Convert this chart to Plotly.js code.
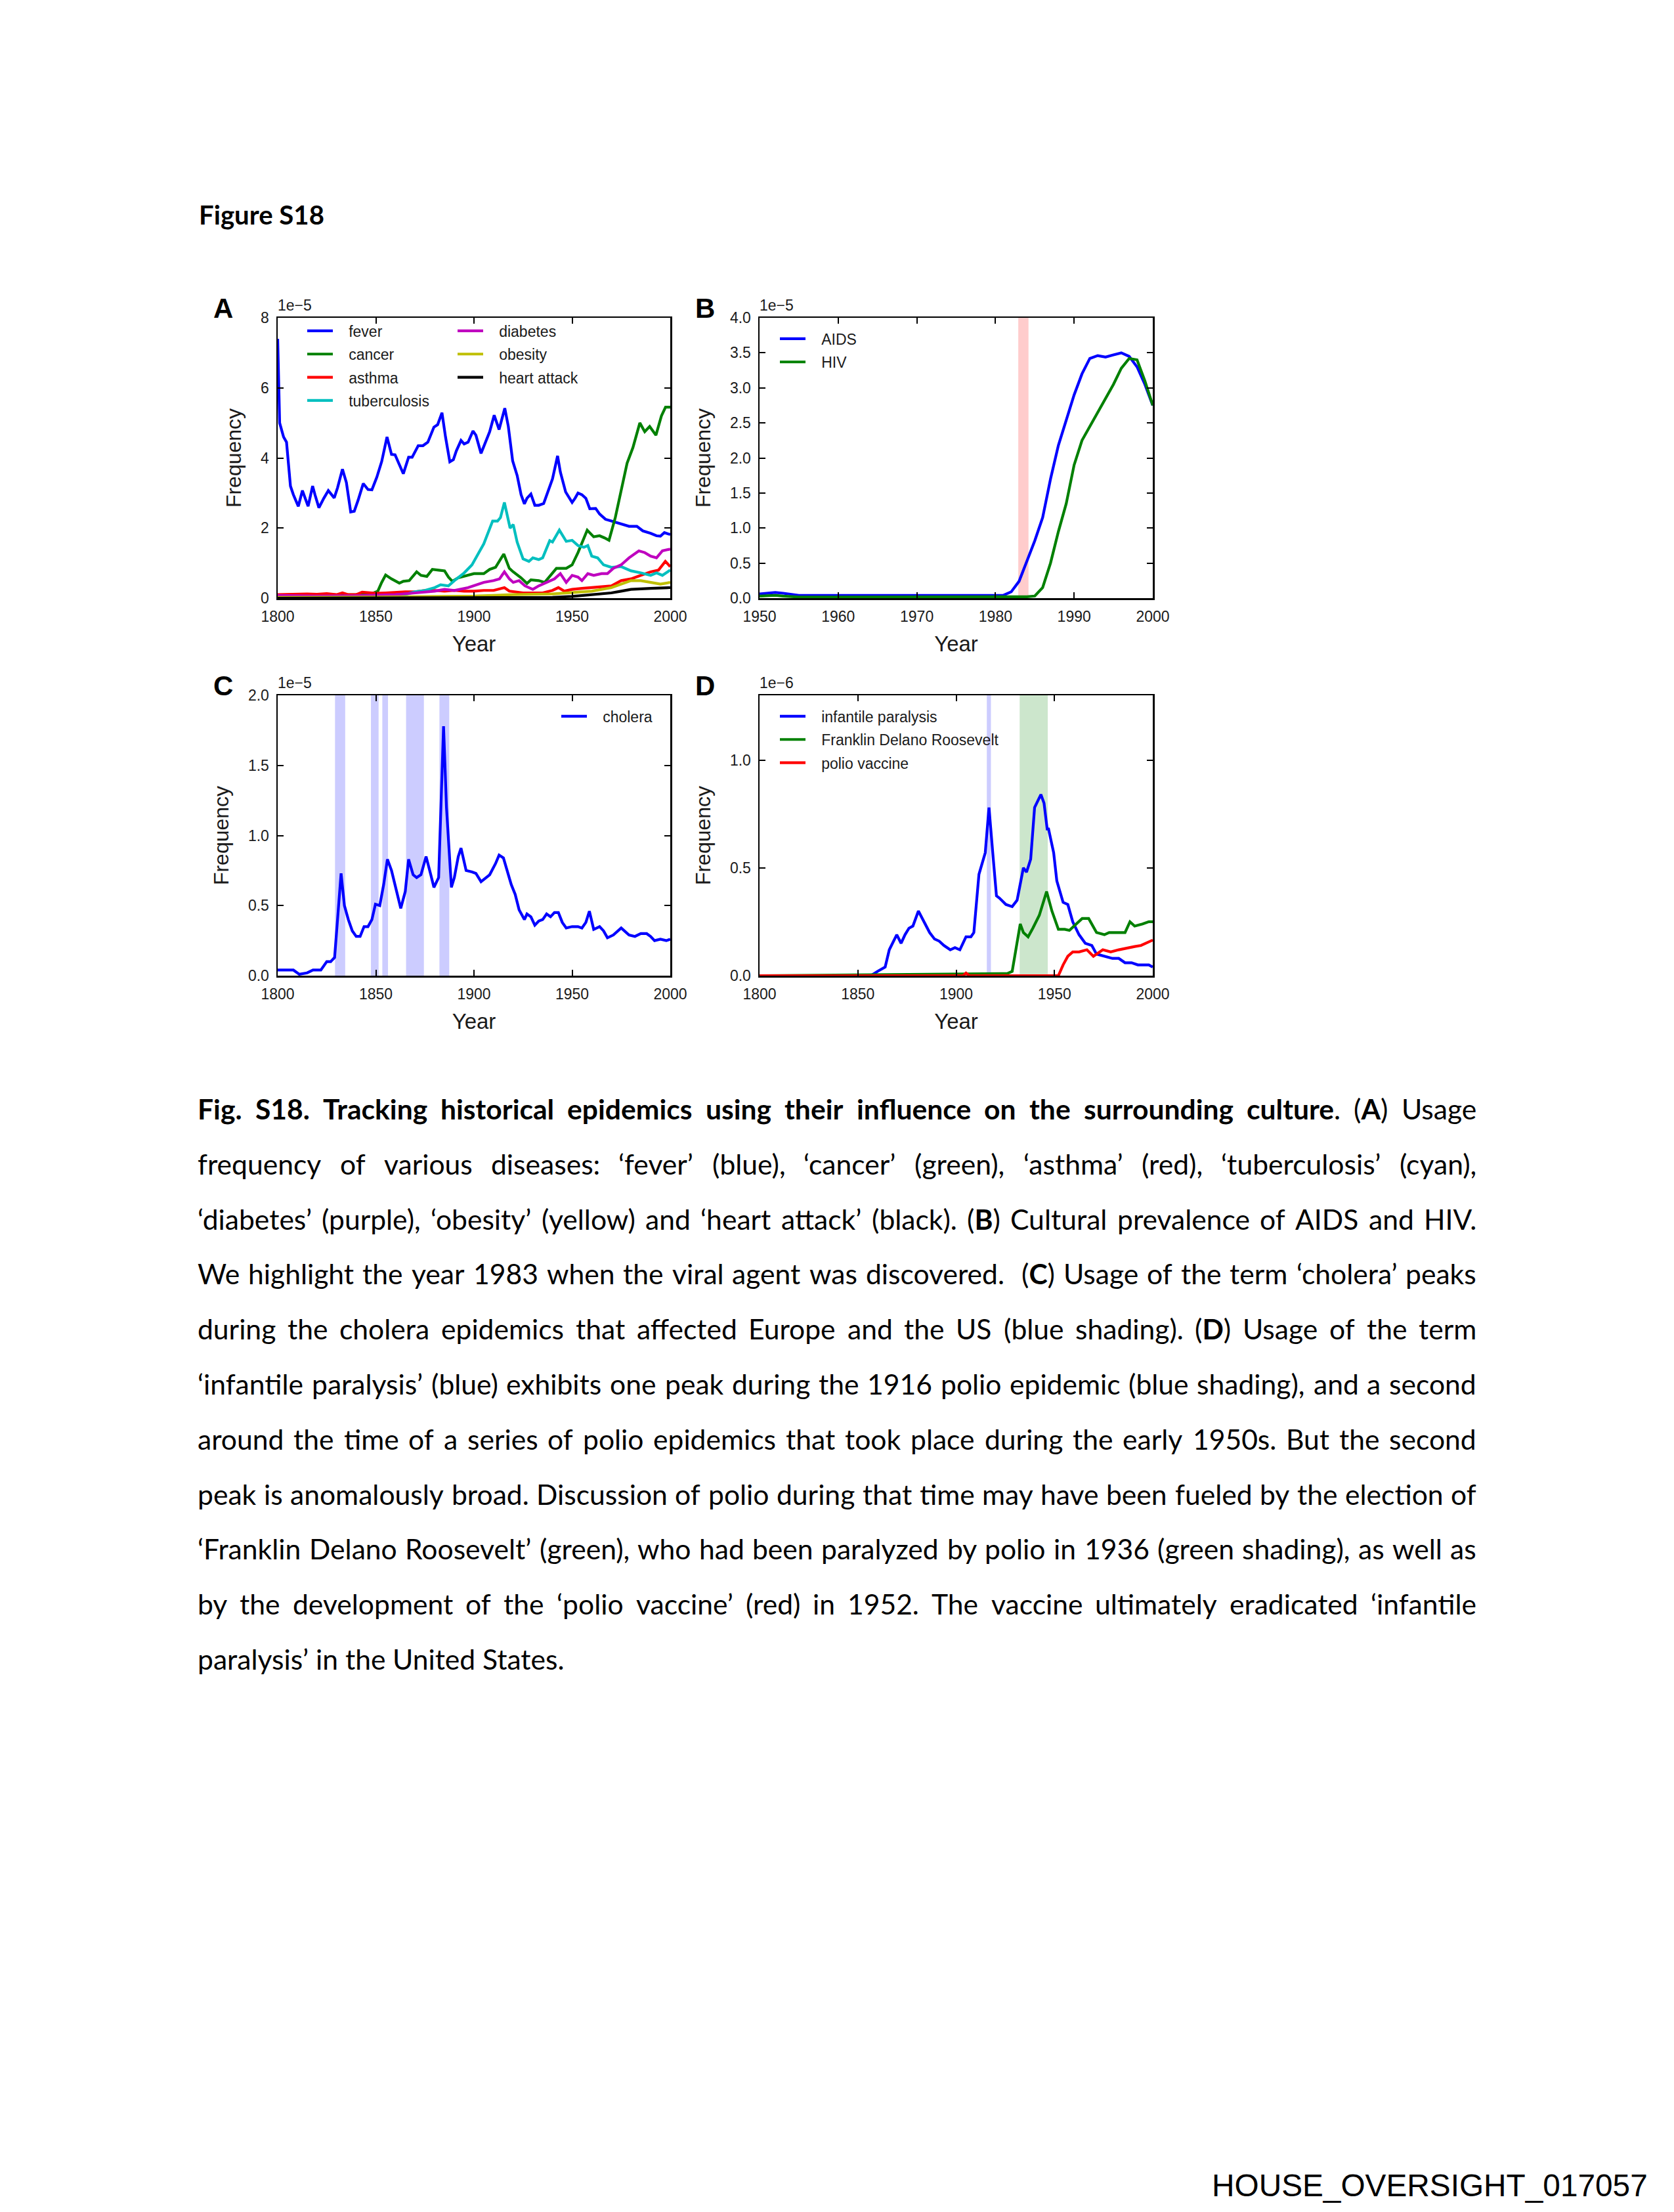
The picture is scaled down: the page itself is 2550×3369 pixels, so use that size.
<!DOCTYPE html>
<html>
<head>
<meta charset="utf-8">
<script src="https://cdn.plot.ly/plotly-3.0.1.min.js"></script>
<style>
html,body{margin:0;padding:0;background:#fff;}
#chart{width:2550px;height:3369px;}
</style>
</head>
<body>
<div id="chart"></div>
<script>
// ================= DATA (frequencies in units of the axis multiplier) =================
// Panel A (x 1e-5)
const feverYears = [1800,1801,1803,1804.5,1806.5,1808,1810.5,1812.6,1815.5,1817.8,1819,1821,1823.5,1825.8,1828.8,1830.5,1833,1835,1837.2,1839,1841,1843.6,1846,1848,1850.5,1853,1855.7,1858,1859.8,1862,1864,1866.7,1868.5,1871.6,1874,1876.5,1879.6,1881.5,1883.7,1885.5,1887.7,1889.5,1891,1893.4,1895,1897,1899.5,1901,1903.6,1905.5,1908,1910.3,1912.8,1915.7,1917.5,1919.7,1922,1924,1925.7,1927,1929,1931,1933,1935.5,1937.5,1940,1942.6,1944,1946.7,1950,1951.5,1953,1955,1957,1959,1962,1964,1967,1970,1973,1976,1979,1983,1986,1990,1993,1995,1997,1999,2000];
const feverVals = [7.4,5.0,4.6,4.45,3.2,2.95,2.62,3.07,2.62,3.2,2.95,2.58,2.85,3.07,2.86,3.15,3.68,3.3,2.46,2.48,2.8,3.27,3.1,3.09,3.45,3.9,4.6,4.1,4.09,3.8,3.55,4.02,4.02,4.35,4.35,4.45,4.88,4.95,5.29,4.6,3.89,3.95,4.2,4.5,4.4,4.45,4.77,4.65,4.13,4.4,4.75,5.22,4.81,5.42,4.9,3.92,3.5,2.95,2.69,2.85,2.97,2.65,2.65,2.7,3.0,3.4,4.06,3.6,3.03,2.73,2.85,3.0,2.95,2.85,2.55,2.56,2.4,2.25,2.2,2.15,2.1,2.05,2.05,1.92,1.85,1.78,1.77,1.87,1.83,1.82];

const cancerYears = [1800,1810,1820,1830,1840,1845,1849,1851,1853,1855,1858,1862,1864,1867,1870.8,1873,1876,1878.8,1882,1885,1887,1889,1892,1896.6,1900,1905,1908,1911,1915.2,1918,1920,1924,1927,1929,1933,1936,1940,1942,1947,1950,1953,1957.7,1961,1964,1966.5,1968.8,1972,1975,1978,1981,1984.5,1987,1989.5,1992.7,1995.5,1997.6,2000];
const cancerVals = [0.08,0.08,0.09,0.09,0.1,0.15,0.15,0.2,0.45,0.66,0.55,0.43,0.48,0.5,0.75,0.65,0.62,0.82,0.8,0.78,0.6,0.48,0.58,0.65,0.7,0.7,0.82,0.88,1.26,0.85,0.75,0.58,0.42,0.52,0.5,0.45,0.7,0.85,0.85,0.95,1.3,1.94,1.75,1.78,1.72,1.65,2.3,3.1,3.85,4.3,5.0,4.75,4.9,4.65,5.2,5.45,5.45];

const asthmaYears = [1800,1805,1810,1815,1820,1825,1830,1833,1836,1840,1843,1846,1850,1855,1860,1865,1870,1875,1880,1885,1890,1895,1900,1905,1910,1915.5,1918,1922,1925,1930,1935,1940,1943,1946,1950,1955,1960,1965,1970,1975,1980,1985,1990,1994,1997.5,2000];
const asthmaVals = [0.1,0.11,0.12,0.12,0.11,0.13,0.1,0.15,0.1,0.1,0.17,0.15,0.14,0.15,0.17,0.18,0.18,0.22,0.22,0.2,0.22,0.2,0.2,0.22,0.22,0.3,0.2,0.18,0.15,0.15,0.15,0.22,0.3,0.2,0.25,0.28,0.3,0.32,0.35,0.5,0.55,0.65,0.75,0.8,1.05,0.9];

const tbYears = [1800,1820,1840,1850,1860,1866,1870,1875,1880,1883,1887,1890,1895,1899,1902,1905,1909.5,1912,1913.5,1915.5,1918.4,1920,1922,1925,1928,1930,1933,1935,1938.6,1940,1943.5,1945,1947,1950,1953,1956,1958,1960,1963,1966,1970,1975,1980,1985,1990,1993,1996,2000];
const tbVals = [0.03,0.03,0.04,0.05,0.1,0.12,0.18,0.22,0.3,0.38,0.35,0.5,0.72,0.95,1.25,1.55,2.2,2.2,2.3,2.73,2.0,2.1,1.6,1.12,1.05,1.15,1.1,1.15,1.64,1.6,1.94,1.8,1.62,1.65,1.5,1.45,1.5,1.2,1.15,0.95,0.88,0.9,0.78,0.72,0.65,0.72,0.65,0.8];

const diabetesYears = [1800,1820,1840,1860,1870,1880,1885,1890,1897,1900,1905,1910,1913,1915.5,1918,1920,1923,1926,1930,1933,1937,1941,1944,1947,1950,1953,1955,1958,1961,1965,1968,1971,1975,1979,1984,1987,1990,1993,1996,2000];
const diabetesVals = [0.08,0.06,0.07,0.1,0.15,0.2,0.25,0.22,0.3,0.35,0.45,0.5,0.55,0.75,0.55,0.45,0.5,0.35,0.25,0.35,0.45,0.55,0.7,0.45,0.65,0.6,0.5,0.7,0.65,0.7,0.7,0.85,0.95,1.15,1.35,1.3,1.2,1.15,1.35,1.4];

const obesityYears = [1800,1850,1900,1920,1940,1950,1960,1970,1975,1980,1985,1990,1995,2000];
const obesityVals = [0.02,0.03,0.06,0.1,0.12,0.15,0.2,0.3,0.4,0.5,0.5,0.45,0.4,0.45];

const heartYears = [1800,1900,1940,1950,1960,1970,1975,1980,1990,2000];
const heartVals = [0.0,0.01,0.02,0.05,0.1,0.15,0.2,0.25,0.28,0.3];

// Panel B (x 1e-5)
const bYears = [1950,1951,1952,1953,1954,1955,1956,1957,1958,1959,1960,1961,1962,1963,1964,1965,1966,1967,1968,1969,1970,1971,1972,1973,1974,1975,1976,1977,1978,1979,1980,1981,1982,1983,1984,1985,1986,1987,1988,1989,1990,1991,1992,1993,1994,1995,1996,1997,1998,1999,2000];
const aidsVals = [0.06,0.07,0.08,0.07,0.05,0.04,0.04,0.04,0.045,0.045,0.045,0.045,0.045,0.04,0.04,0.04,0.04,0.04,0.04,0.045,0.045,0.045,0.04,0.04,0.045,0.045,0.045,0.04,0.04,0.04,0.04,0.04,0.09,0.24,0.53,0.82,1.15,1.7,2.18,2.55,2.9,3.2,3.42,3.46,3.44,3.47,3.5,3.45,3.3,3.05,2.75];
const hivVals = [0.03,0.035,0.04,0.03,0.02,0.015,0.015,0.015,0.015,0.015,0.015,0.015,0.015,0.015,0.015,0.015,0.015,0.015,0.015,0.015,0.015,0.015,0.015,0.015,0.015,0.015,0.015,0.015,0.015,0.015,0.015,0.015,0.015,0.015,0.02,0.03,0.15,0.5,0.95,1.35,1.9,2.25,2.45,2.65,2.85,3.05,3.28,3.42,3.4,3.1,2.75];
const hivDiscoverySpan = [1982.9, 1984.2];

// Panel C (x 1e-5)
const choleraYears = [1800,1805,1808,1811,1815,1818,1822,1825,1827,1829,1830.5,1832.3,1834,1836,1838,1840,1842,1844,1846,1848,1849.8,1852,1854,1855.9,1858,1861,1862.7,1865,1866.7,1869,1870.8,1873,1875.6,1878,1879.6,1882,1884.5,1886,1888.5,1890,1892,1893.4,1896,1899,1901,1903.6,1906,1908,1911,1912.8,1915,1917,1919,1921,1923,1925.7,1927,1929,1931,1933,1935,1937,1939,1941,1943,1945,1947,1950,1953,1955,1957,1958.8,1961,1964,1966,1968,1971,1975,1979,1982,1985,1988,1990,1992,1995,1998,2000];
const choleraVals = [0.04,0.04,0.04,0.01,0.02,0.04,0.04,0.1,0.1,0.13,0.4,0.73,0.5,0.4,0.32,0.28,0.28,0.35,0.35,0.4,0.51,0.5,0.65,0.83,0.75,0.58,0.48,0.6,0.83,0.72,0.7,0.72,0.85,0.72,0.63,0.7,1.78,1.2,0.63,0.7,0.85,0.91,0.75,0.74,0.73,0.67,0.7,0.72,0.8,0.86,0.84,0.75,0.65,0.58,0.47,0.4,0.44,0.42,0.36,0.39,0.4,0.44,0.42,0.45,0.45,0.38,0.34,0.35,0.35,0.34,0.38,0.46,0.33,0.35,0.32,0.27,0.29,0.34,0.29,0.28,0.3,0.3,0.28,0.25,0.26,0.25,0.26];
const choleraEpidemicStarts = [1829.2, 1847.5, 1853.3, 1865.4, 1882.4];
const choleraEpidemicEnds   = [1834.4, 1851.4, 1856.2, 1874.5, 1887.4];

// Panel D (x 1e-6)
const paralysisYears = [1800,1856.6,1860,1862,1863.9,1866,1869.8,1872,1874,1876,1878,1880.8,1884,1886.5,1889,1891.4,1893.8,1897,1899.4,1901.9,1905,1907.5,1909,1911.6,1914.8,1916.7,1918.8,1920.5,1922,1925.3,1928.5,1931,1934.2,1935.8,1937.9,1939.9,1943.1,1944.7,1946.3,1947,1949.6,1951.2,1954.4,1956.8,1959.3,1962.5,1965.7,1969,1971.4,1976.2,1979.5,1982.7,1985.9,1989.2,1992.4,1995.6,1998,2000];
const paralysisVals = [0,0,0.02,0.03,0.04,0.12,0.19,0.15,0.19,0.22,0.23,0.3,0.24,0.2,0.17,0.16,0.14,0.12,0.13,0.12,0.18,0.18,0.2,0.47,0.57,0.78,0.55,0.37,0.36,0.33,0.32,0.35,0.5,0.48,0.54,0.78,0.84,0.8,0.68,0.68,0.57,0.44,0.34,0.33,0.25,0.19,0.15,0.14,0.1,0.09,0.08,0.08,0.06,0.06,0.05,0.05,0.05,0.04];
const fdrYears = [1800,1926.1,1928.5,1930,1932.6,1934.2,1936.6,1939,1942.3,1946,1948.7,1952,1955.2,1957.6,1960.9,1964.1,1967.4,1971.4,1975.4,1977.8,1981,1985.9,1988.4,1990.8,1994.8,1998,2000];
const fdrVals = [0,0.01,0.02,0.1,0.24,0.2,0.18,0.22,0.28,0.39,0.3,0.215,0.215,0.21,0.24,0.265,0.265,0.2,0.19,0.2,0.2,0.2,0.25,0.23,0.24,0.25,0.25];
const vaccineYears = [1800,1903.5,1905,1906.7,1908,1952,1954.4,1956.8,1959.3,1962.5,1966.5,1969.8,1974.6,1978.6,1982.7,1987.5,1990.8,1994,1997.3,2000];
const vaccineVals = [0,0,0.012,0,0,0,0.05,0.09,0.11,0.11,0.12,0.09,0.12,0.11,0.12,0.13,0.135,0.14,0.155,0.165];
const polioEpidemicSpan = [1915.6, 1917.7];
const fdrSpan = [1932.3, 1946.6];

// Tick labels
const centuryTicks = [1800, 1850, 1900, 1950, 2000];
const bXTicks = [1950, 1960, 1970, 1980, 1990, 2000];
const aYTicks = [0, 2, 4, 6, 8];
const bYTicks = [0, 0.5, 1.0, 1.5, 2.0, 2.5, 3.0, 3.5, 4.0];
const cYTicks = [0, 0.5, 1.0, 1.5, 2.0];
const dYTicks = [0, 0.5, 1.0];

// Caption text
const figureHeading = "Figure S18";
const captionLines = [
  "<b>Fig.</b> <b>S18.</b> <b>Tracking</b> <b>historical</b> <b>epidemics</b> <b>using</b> <b>their</b> <b>influence</b> <b>on</b> <b>the</b> <b>surrounding</b> <b>culture</b>. (<b>A</b>) Usage",
  "frequency of various diseases: ‘fever’ (blue), ‘cancer’ (green), ‘asthma’ (red), ‘tuberculosis’ (cyan),",
  "‘diabetes’ (purple), ‘obesity’ (yellow) and ‘heart attack’ (black). (<b>B</b>) Cultural prevalence of AIDS and HIV.",
  "We highlight the year 1983 when the viral agent was discovered.  (<b>C</b>) Usage of the term ‘cholera’ peaks",
  "during the cholera epidemics that affected Europe and the US (blue shading). (<b>D</b>) Usage of the term",
  "‘infantile paralysis’ (blue) exhibits one peak during the 1916 polio epidemic (blue shading), and a second",
  "around the time of a series of polio epidemics that took place during the early 1950s. But the second",
  "peak is anomalously broad. Discussion of polio during that time may have been fueled by the election of",
  "‘Franklin Delano Roosevelt’ (green), who had been paralyzed by polio in 1936 (green shading), as well as",
  "by the development of the ‘polio vaccine’ (red) in 1952. The vaccine ultimately eradicated ‘infantile",
  "paralysis’ in the United States."
];
const footerText = "HOUSE_OVERSIGHT_017057";

// ================= LAYOUT HELPERS =================
const W = 2550, H = 3369;
const px = v => v / W;
const py = v => 1 - v / H;

const C_BLUE = '#0000ff', C_GREEN = '#008000', C_RED = '#ff0000', C_CYAN = '#00bfbf',
      C_MAGENTA = '#bf00bf', C_YELLOW = '#bfbf00', C_BLACK = '#000000';
const SANS = 'Liberation Sans, Arial, Helvetica, sans-serif';
const TXT = '#1a1a1a';

const cv = document.createElement('canvas').getContext('2d');
function segs(html) {
  const out = []; const re = /<b>(.*?)<\/b>|([^<]+)/g; let m;
  while ((m = re.exec(html))) { if (m[1] !== undefined) out.push([m[1], true]); else out.push([m[2], false]); }
  return out;
}
function measure(html, fs, fam, forceBold) {
  let w = 0;
  for (const [t, b] of segs(html)) {
    cv.font = ((b || forceBold) ? 'bold ' : '') + fs + 'px ' + fam;
    w += cv.measureText(t).width;
  }
  return w;
}
function fitSize(text, fam, target, bold) { return 100 * target / measure(text, 100, fam, bold); }

// ================= TRACES =================
const LW = 4.2;
const LEGEND_PAD = '\u00a0\u00a0\u00a0';   // gap between legend line sample and its label
function tr(x, y, name, color, xa, ya, legend) {
  return { type: 'scatter', mode: 'lines', x: x, y: y, name: LEGEND_PAD + name, legend: legend, legendgroup: name,
           xaxis: xa, yaxis: ya, line: { color: color, width: LW }, hoverinfo: 'skip' };
}
const traces = [
  tr(feverYears, feverVals, 'fever', C_BLUE, 'x', 'y', 'legend'),
  tr(cancerYears, cancerVals, 'cancer', C_GREEN, 'x', 'y', 'legend'),
  tr(asthmaYears, asthmaVals, 'asthma', C_RED, 'x', 'y', 'legend'),
  tr(tbYears, tbVals, 'tuberculosis', C_CYAN, 'x', 'y', 'legend'),
  tr(diabetesYears, diabetesVals, 'diabetes', C_MAGENTA, 'x', 'y', 'legend2'),
  tr(obesityYears, obesityVals, 'obesity', C_YELLOW, 'x', 'y', 'legend2'),
  tr(heartYears, heartVals, 'heart attack', C_BLACK, 'x', 'y', 'legend2'),
  tr(bYears, aidsVals, 'AIDS', C_BLUE, 'x2', 'y2', 'legend3'),
  tr(bYears, hivVals, 'HIV', C_GREEN, 'x2', 'y2', 'legend3'),
  tr(choleraYears, choleraVals, 'cholera', C_BLUE, 'x3', 'y3', 'legend4'),
  tr(paralysisYears, paralysisVals, 'infantile paralysis', C_BLUE, 'x4', 'y4', 'legend5'),
  tr(fdrYears, fdrVals, 'Franklin Delano Roosevelt', C_GREEN, 'x4', 'y4', 'legend5'),
  tr(vaccineYears, vaccineVals, 'polio vaccine', C_RED, 'x4', 'y4', 'legend5')
];

// ================= AXES =================
const FRAME = {
  A: { l: 423, r: 1021, t: 484, b: 911 },
  B: { l: 1157, r: 1756, t: 484, b: 911 },
  C: { l: 423, r: 1021, t: 1059, b: 1486 },
  D: { l: 1157, r: 1756, t: 1059, b: 1486 }
};
function xAx(f, range, ticks, anchor) {
  return {
    domain: [px(f.l), px(f.r)], range: range, anchor: anchor, tickvals: ticks, tickangle: 0,
    showline: true, linecolor: '#000', linewidth: 2.5, mirror: 'ticks',
    ticks: 'inside', ticklen: 9, tickwidth: 2, tickcolor: '#000',
    showgrid: false, zeroline: false, ticklabelstandoff: 6,
    tickfont: { family: SANS, size: 23, color: TXT },
    title: { text: 'Year', font: { family: SANS, size: 33, color: TXT }, standoff: 18 }
  };
}
function yAx(f, range, ticks, fmt, anchor) {
  return {
    domain: [py(f.b), py(f.t)], range: range, anchor: anchor, tickvals: ticks, tickformat: fmt, tickangle: 0,
    showline: true, linecolor: '#000', linewidth: 2.5, mirror: 'ticks',
    ticks: 'inside', ticklen: 9, tickwidth: 2, tickcolor: '#000',
    showgrid: false, zeroline: false, ticklabelstandoff: 6,
    tickfont: { family: SANS, size: 23, color: TXT },
    title: { text: 'Frequency', font: { family: SANS, size: 32, color: TXT }, standoff: 20 }
  };
}

// ================= SHAPES =================
const shapes = [];
function band(x0, x1, xa, ya, color) {
  shapes.push({ type: 'rect', xref: xa, yref: ya + ' domain', x0: x0, x1: x1, y0: 0, y1: 1,
                fillcolor: color, line: { width: 0 }, layer: 'below' });
}
band(hivDiscoverySpan[0], hivDiscoverySpan[1], 'x2', 'y2', 'rgba(255,0,0,0.2)');
choleraEpidemicStarts.forEach((s, i) => band(s, choleraEpidemicEnds[i], 'x3', 'y3', 'rgba(0,0,255,0.2)'));
band(polioEpidemicSpan[0], polioEpidemicSpan[1], 'x4', 'y4', 'rgba(0,0,255,0.2)');
band(fdrSpan[0], fdrSpan[1], 'x4', 'y4', 'rgba(0,128,0,0.2)');

// ================= ANNOTATIONS =================
const ann = [];
function txt(text, xPx, yPx, size, opts) {
  ann.push(Object.assign({ xref: 'paper', yref: 'paper', x: px(xPx), y: py(yPx), text: text, showarrow: false,
    xanchor: 'left', yanchor: 'middle', borderpad: 0, borderwidth: 0,
    font: { family: SANS, size: size, color: TXT } }, opts || {}));
}
// Panel letters & multipliers
[['A', 325, 470, '1e−5', 423, 465], ['B', 1059, 470, '1e−5', 1157, 465],
 ['C', 325, 1045, '1e−5', 423, 1040], ['D', 1059, 1045, '1e−6', 1157, 1040]].forEach(p => {
  txt('<b>' + p[0] + '</b>', p[1], p[2], 42, { font: { family: SANS, size: 42, color: '#000' } });
  txt(p[3], p[4], p[5], 23);
});

// Heading
const CAPFAM = 'Lato';
const headFs = fitSize(figureHeading, CAPFAM, 191, true);
txt('<b>' + figureHeading + '</b>', 303, 342 - 0.387 * headFs, headFs, { font: { family: CAPFAM, size: headFs, color: '#000' } });

// Caption, justified word by word
const capLeft = 301, capRight = 2249;
const capFs = fitSize(captionLines[captionLines.length - 1], CAPFAM, 559, false);
const spaceW = measure(' ', capFs, CAPFAM);
captionLines.forEach((line, i) => {
  const words = line.split(' ');
  const widths = words.map(w => w === '' ? 0 : measure(w, capFs, CAPFAM));
  const total = widths.reduce((a, b) => a + b, 0);
  const justify = i < captionLines.length - 1;
  const gap = justify ? (capRight - capLeft - total) / (words.length - 1) : spaceW;
  const baseline = 1705 + 83.8 * i;
  let x = capLeft;
  words.forEach((w, k) => {
    if (w !== '') txt(w, x, baseline - 0.387 * capFs, capFs, { font: { family: CAPFAM, size: capFs, color: '#000' } });
    x += widths[k] + gap;
  });
});

// Footer
const FOOTFAM = '"Liberation Sans Narrow", "Arial Narrow", "Liberation Sans", Arial, sans-serif';
const footFs = fitSize(footerText, FOOTFAM, 664, false);
txt(footerText, 2510, 3345 - 0.35 * footFs, footFs, { xanchor: 'right', font: { family: FOOTFAM, size: footFs, color: '#000' } });

// ================= LEGENDS =================
const legFont = { family: SANS, size: 23, color: TXT };
function leg(xPx, topPx) {
  return { x: px(xPx), y: py(topPx), xanchor: 'left', yanchor: 'top', bgcolor: 'rgba(0,0,0,0)',
           borderwidth: 0, font: legFont, itemwidth: 39, tracegroupgap: 2.4, traceorder: 'grouped' };
}

const layout = {
  width: W, height: H, margin: { l: 0, r: 0, t: 0, b: 0 },
  paper_bgcolor: '#fff', plot_bgcolor: '#fff',
  font: { family: SANS, color: TXT },
  showlegend: true,
  xaxis: xAx(FRAME.A, [1800, 2000], centuryTicks, 'y'),
  yaxis: yAx(FRAME.A, [0, 8], aYTicks, 'd', 'x'),
  xaxis2: xAx(FRAME.B, [1950, 2000], bXTicks, 'y2'),
  yaxis2: yAx(FRAME.B, [0, 4], bYTicks, '.1f', 'x2'),
  xaxis3: xAx(FRAME.C, [1800, 2000], centuryTicks, 'y3'),
  yaxis3: yAx(FRAME.C, [0, 2], cYTicks, '.1f', 'x3'),
  xaxis4: xAx(FRAME.D, [1800, 2000], centuryTicks, 'y4'),
  yaxis4: yAx(FRAME.D, [0, 1.3], dYTicks, '.1f', 'x4'),
  legend: leg(463, 482.5),
  legend2: leg(692, 482.5),
  legend3: leg(1183, 494.5),
  legend4: leg(850, 1069.5),
  legend5: leg(1183, 1069.5),
  shapes: shapes,
  annotations: ann
};

Plotly.newPlot('chart', traces, layout, { staticPlot: true, displayModeBar: false });
</script>
</body>
</html>
